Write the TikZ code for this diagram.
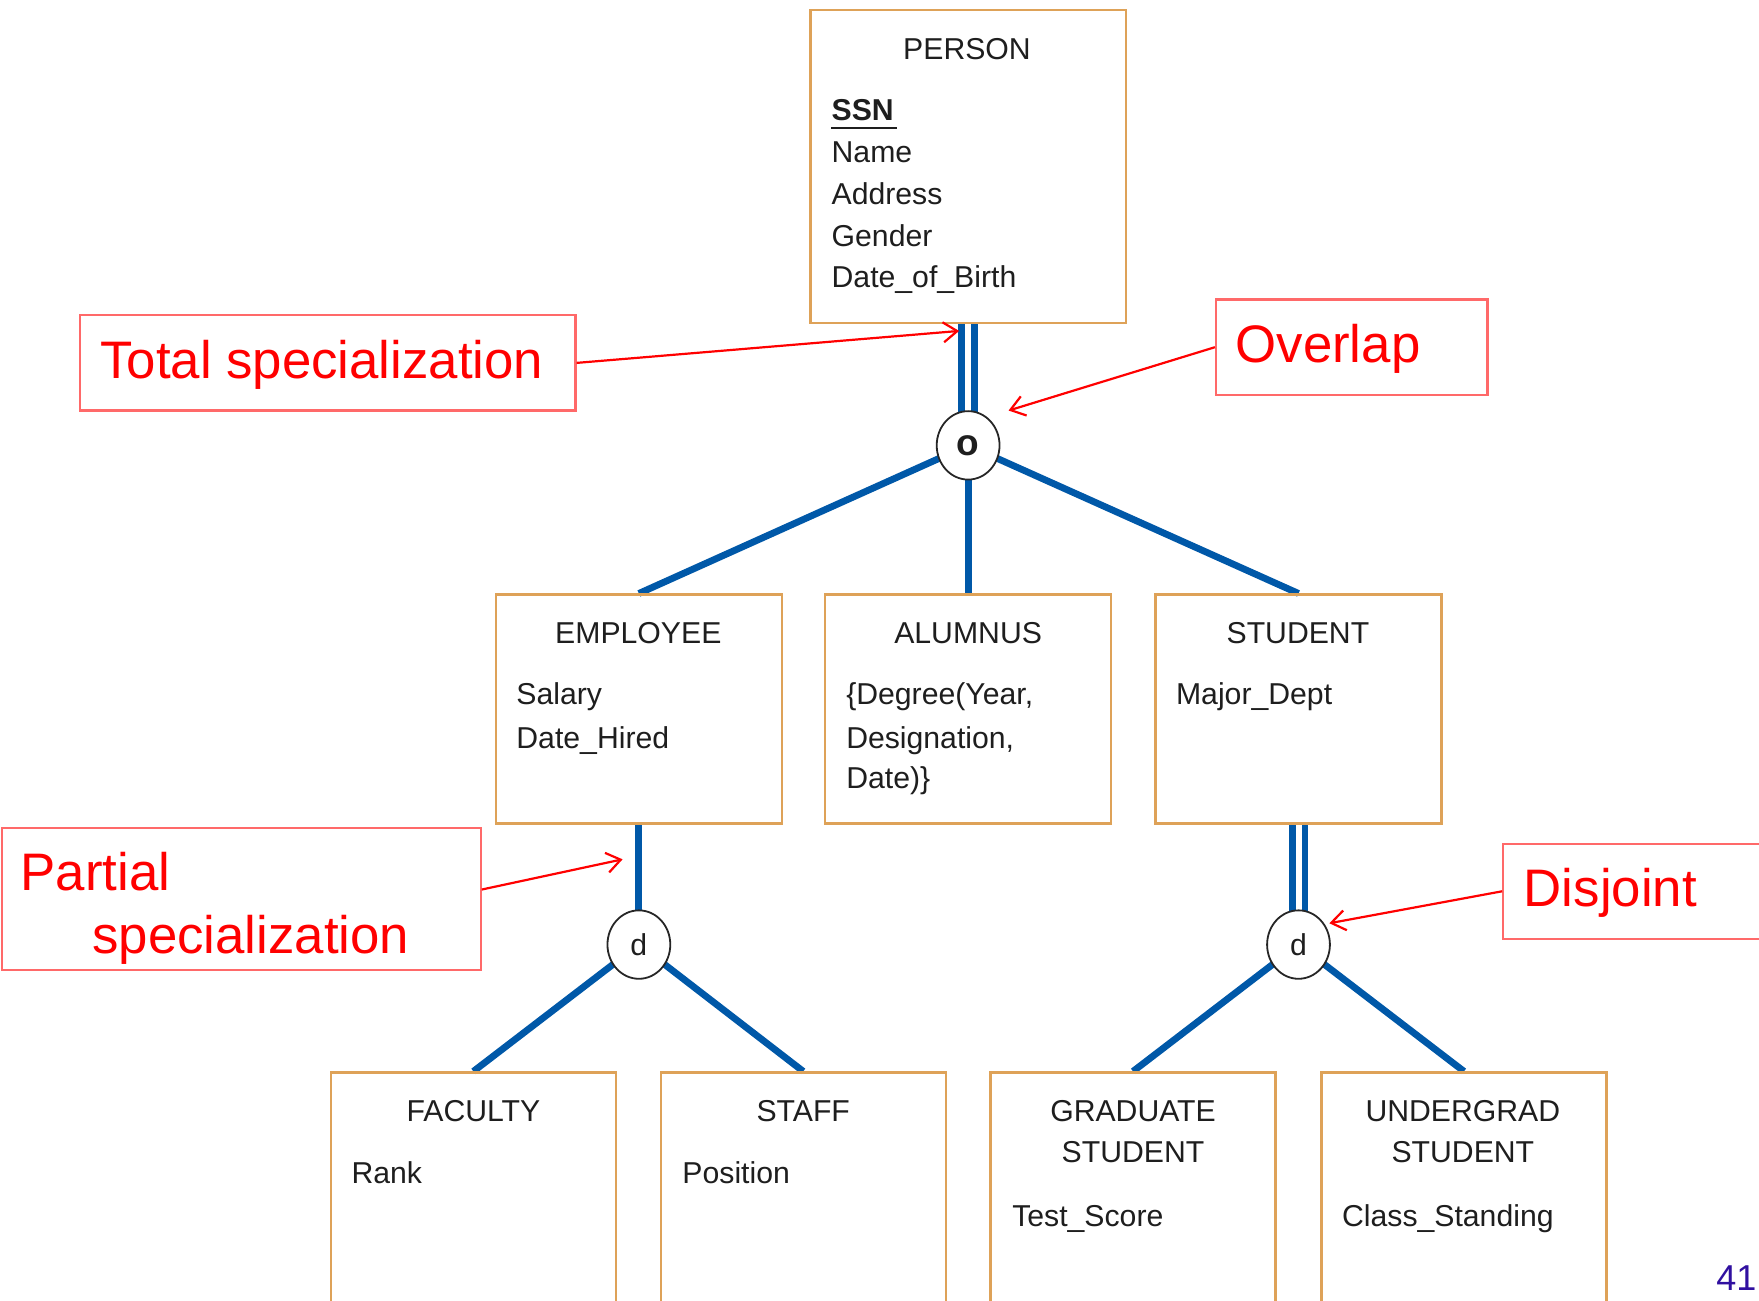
\documentclass[tikz,border=0pt]{standalone}
\usepackage{fontspec}
\setmainfont{Liberation Sans}
\usetikzlibrary{shapes.geometric,arrows.meta,backgrounds}
\definecolor{eblue}{RGB}{0,88,168}
\definecolor{eorange}{RGB}{222,162,88}
\definecolor{anred}{RGB}{255,0,0}
\definecolor{anbox}{RGB}{255,105,105}
\definecolor{etext}{RGB}{30,30,30}
\definecolor{pgnum}{RGB}{48,16,160}
\newcommand\pxu{0.5609pt}
\newcommand\dfont{\fontsize{15.1}{18}\selectfont}
\newcommand\afont{\fontsize{26.4}{32}\selectfont}
\begin{document}
\begin{tikzpicture}[x=0.5609pt,y=-0.5609pt,
  entbox/.style={draw=eorange, line width=1.1pt, rectangle, inner sep=0},
  spec/.style={draw=black!85, line width=0.9pt, ellipse, fill=white, inner sep=0,
    minimum width=56*\pxu, minimum height=61*\pxu, text=etext, font=\dfont},
  blueline/.style={draw=eblue, line width=3.4pt},
  annbox/.style={draw=anbox, line width=1.1pt, rectangle, inner sep=0},
  annarrow/.style={draw=anred, line width=1.1pt, -{Straight Barb[length=7pt,width=10pt]}},
  ttl/.style={anchor=base, inner sep=0, text=etext, font=\dfont},
  attr/.style={anchor=base west, inner sep=0, text=etext, font=\dfont},
  antext/.style={anchor=base west, inner sep=0, text=anred, font=\afont}]
\useasboundingbox (0,0) rectangle (1568,1159);

% entity boxes
\node[entbox, minimum width=281*\pxu, minimum height=279*\pxu] (person) at (863,148.5) {};
\node[entbox, minimum width=255*\pxu, minimum height=204*\pxu] (employee) at (569.5,632) {};
\node[entbox, minimum width=255*\pxu, minimum height=204*\pxu] (alumnus) at (863,632) {};
\node[entbox, minimum width=255*\pxu, minimum height=204*\pxu] (student) at (1157.5,632) {};
\node[entbox, minimum width=254*\pxu, minimum height=260*\pxu] (faculty) at (422,1086) {};
\node[entbox, minimum width=254*\pxu, minimum height=260*\pxu] (staff) at (716,1086) {};
\node[entbox, minimum width=254*\pxu, minimum height=260*\pxu] (grad) at (1010,1086) {};
\node[entbox, minimum width=254*\pxu, minimum height=260*\pxu] (ugrad) at (1305,1086) {};

% texts
\node[ttl] (tperson) at (862,53) {PERSON};
\node[attr, font=\dfont\bfseries] (ssn) at (741,107) {SSN};
\draw[line width=1.1pt, etext] (ssn.base west) ++(0,7) coordinate (ssnu) -- ++(59,0);
\node[attr] (aname) at (741,145) {Name};
\node[attr] (aaddr) at (741,182) {Address};
\node[attr] (agend) at (741,220) {Gender};
\node[attr] (adob) at (741,256) {Date\_of\_Birth};

\node[ttl] (temp) at (569,574) {EMPLOYEE};
\node[attr] (asal) at (460,628) {Salary};
\node[attr] (ahire) at (460,667) {Date\_Hired};
\node[ttl] (talu) at (863,574) {ALUMNUS};
\node[attr] (adeg1) at (754,628) {\{Degree(Year,};
\node[attr] (adeg2) at (754,667) {Designation,};
\node[attr] (adeg3) at (754,703) {Date)\}};
\node[ttl] (tstu) at (1157,574) {STUDENT};
\node[attr] (amaj) at (1048,628) {Major\_Dept};

\node[ttl] (tfac) at (422,1000) {FACULTY};
\node[attr] (arank) at (313,1055) {Rank};
\node[ttl] (tstaff) at (716,1000) {STAFF};
\node[attr] (apos) at (608,1055) {Position};
\node[ttl] (tgrad1) at (1010,1000) {GRADUATE};
\node[ttl] (tgrad2) at (1010,1036) {STUDENT};
\node[attr] (ats) at (902,1093) {Test\_Score};
\node[ttl] (tug1) at (1304,1000) {UNDERGRAD};
\node[ttl] (tug2) at (1304,1036) {STUDENT};
\node[attr] (acs) at (1196,1093) {Class\_Standing};

% specialization circles
\node[spec, font=\fontsize{18.5}{20}\selectfont\bfseries] (ocirc) at (863,397) {o};
\node[spec] (dleft) at (569.5,842) {d};
\node[spec] (dright) at (1157.5,842) {d};

% connectors
\begin{scope}[on background layer]
\draw[blueline] ([xshift=-3.2pt]person.south) -- ([xshift=-3.2pt]ocirc.center);
\draw[blueline] ([xshift=3.2pt]person.south) -- ([xshift=3.2pt]ocirc.center);
\draw[blueline] (ocirc.center) -- (employee.north);
\draw[blueline] (ocirc.center) -- (alumnus.north);
\draw[blueline] (ocirc.center) -- (student.north);
\draw[blueline] (employee.south) -- (dleft.center);
\draw[blueline] (dleft.center) -- (faculty.north);
\draw[blueline] (dleft.center) -- (staff.north);
\draw[blueline] ([xshift=-3.2pt]student.south) -- ([xshift=-3.2pt]dright.center);
\draw[blueline] ([xshift=3.2pt]student.south) -- ([xshift=3.2pt]dright.center);
\draw[blueline] (dright.center) -- (grad.north);
\draw[blueline] (dright.center) -- (ugrad.north);
\end{scope}

% annotations
\node[annbox, minimum width=442*\pxu, minimum height=85*\pxu] (tbox) at (292,323.5) {};
\node[antext] (ttext) at (89,337) {Total specialization};
\node[annbox, minimum width=242*\pxu, minimum height=85*\pxu] (obox) at (1205,309.5) {};
\node[antext] (otext) at (1101,323) {Overlap};
\node[annbox, minimum width=427*\pxu, minimum height=127*\pxu] (pbox) at (215,801.5) {};
\node[antext] (ptext1) at (18,794) {Partial};
\node[antext] (ptext2) at (82,850) {specialization};
\node[annbox, minimum width=260*\pxu, minimum height=85*\pxu] (dbox) at (1470,794.5) {};
\node[antext] (dtext) at (1358,808) {Disjoint};

\coordinate (ttip) at (855,295);
\coordinate (otip) at (899,366);
\coordinate (ptip) at (555,766);
\coordinate (dtip) at (1185,823);
\draw[annarrow] (tbox.east) -- (ttip);
\draw[annarrow] (obox.west) -- (otip);
\draw[annarrow] ([yshift=4.8pt]pbox.east) -- (ptip);
\draw[annarrow] (dbox.west) -- (dtip);

\node[anchor=base east, inner sep=0, text=pgnum, font=\fontsize{18}{20}\selectfont] (pgno) at (1566,1150) {41};
\end{tikzpicture}
\end{document}
